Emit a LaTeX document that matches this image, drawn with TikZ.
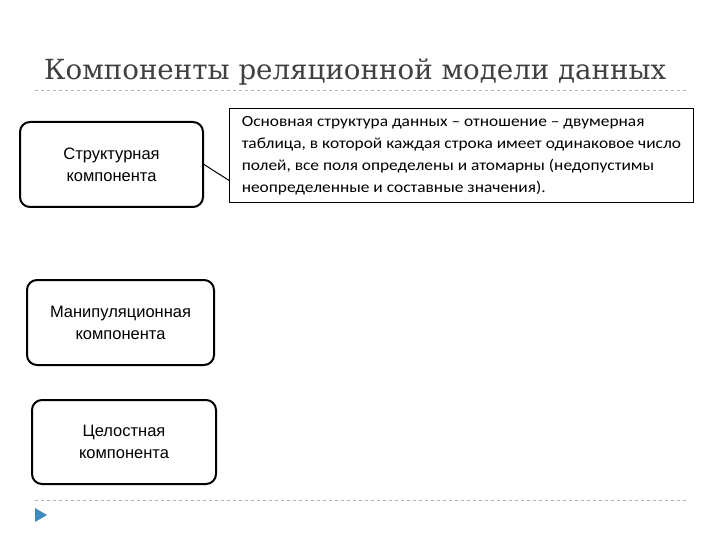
\documentclass[tikz,border=0pt]{standalone}
\usepackage{fontspec}
\setmainfont{Liberation Sans}
\newfontfamily\titlefont{DejaVu Serif}
\newfontfamily\bodyfont[FakeStretch=1.12]{Carlito}
\begin{document}
\begin{tikzpicture}[x=1pt,y=-1pt,
  comp/.style={draw,line width=2pt,rounded corners=10pt,align=center,font=\fontsize{16.5}{22}\selectfont,inner sep=0pt},
  note/.style={draw,line width=0.8pt,align=left,font=\bodyfont\fontsize{15.5}{22}\selectfont,inner sep=6pt,anchor=north west},
  rule/.style={gray!60,dashed,line width=0.6pt}]
\useasboundingbox (0,0) rectangle (720,540);
\node[anchor=base west,font=\titlefont\fontsize{27.7}{32}\selectfont,text=black!75,inner sep=0pt] (title) at (44,80) {Компоненты реляционной модели данных};
\coordinate (r1a) at (35,90); \coordinate (r1b) at (686,90);
\draw[rule] (r1a) -- (r1b);
\coordinate (r2a) at (35,500); \coordinate (r2b) at (686,500);
\draw[rule] (r2a) -- (r2b);
\node[comp,minimum width=183pt,minimum height=85pt] (s) at (111.5,164.5) {Структурная\\компонента};
\node[comp,minimum width=187pt,minimum height=85pt] (m) at (120.5,322.5) {Манипуляционная\\компонента};
\node[comp,minimum width=184pt,minimum height=84pt] (c) at (124,442) {Целостная\\компонента};
\node[note,minimum height=94pt,minimum width=464pt] (n) at (229,108) {Основная структура данных – отношение – двумерная\\таблица, в которой каждая строка имеет одинаковое число\\полей, все поля определены и атомарны (недопустимы\\неопределенные и составные значения).};
\draw[line width=1pt] (s.east) -- ([yshift=-25pt]n.west);
\fill[blue!40!cyan!50!gray] (35,508) -- (47,515) -- (35,522) -- cycle;
\end{tikzpicture}
\end{document}
